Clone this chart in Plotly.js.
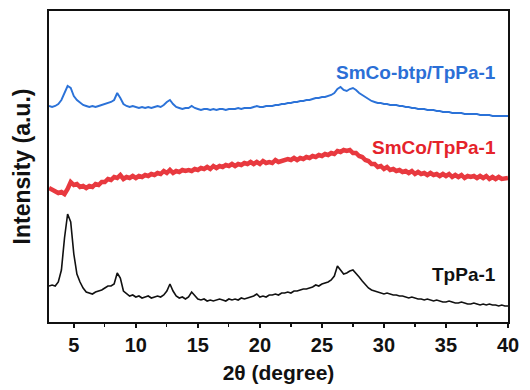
<!DOCTYPE html>
<html>
<head>
<meta charset="utf-8">
<script src="https://cdn.plot.ly/plotly-3.0.1.min.js"></script>
<style>html,body{margin:0;padding:0;background:#fff;}#chart{width:530px;height:390px;}</style>
</head>
<body>
<div id="chart"></div>
<script>
// 2θ grid (degree)
var twoTheta = [
3.00,3.25,3.50,3.75, 4.00,4.25,4.50,4.75, 5.00,5.25,5.50,5.75, 6.00,6.25,6.50,6.75,
7.00,7.25,7.50,7.75, 8.00,8.25,8.50,8.75, 9.00,9.25,9.50,9.75, 10.00,10.25,10.50,10.75,
11.00,11.25,11.50,11.75, 12.00,12.25,12.50,12.75, 13.00,13.25,13.50,13.75, 14.00,14.25,14.50,14.75,
15.00,15.25,15.50,15.75, 16.00,16.25,16.50,16.75, 17.00,17.25,17.50,17.75, 18.00,18.25,18.50,18.75,
19.00,19.25,19.50,19.75, 20.00,20.25,20.50,20.75, 21.00,21.25,21.50,21.75, 22.00,22.25,22.50,22.75,
23.00,23.25,23.50,23.75, 24.00,24.25,24.50,24.75, 25.00,25.25,25.50,25.75, 26.00,26.25,26.50,26.75,
27.00,27.25,27.50,27.75, 28.00,28.25,28.50,28.75, 29.00,29.25,29.50,29.75, 30.00,30.25,30.50,30.75,
31.00,31.25,31.50,31.75, 32.00,32.25,32.50,32.75, 33.00,33.25,33.50,33.75, 34.00,34.25,34.50,34.75,
35.00,35.25,35.50,35.75, 36.00,36.25,36.50,36.75, 37.00,37.25,37.50,37.75, 38.00,38.25,38.50,38.75,
39.00,39.25,39.50,39.75, 40.00
];

// Intensity (a.u., stacked with offsets as in the figure)
var tppa1 = [
36,37,36,40, 52,84,108,100, 68,48,40,34, 30,29,28,30,
31,32,34,36, 36,38,49,44, 31,28,26,27, 25,26,24,25,
26,24,25,26, 25,27,31,38, 31,26,24,25, 23,25,30,26,
23,22,23,21, 22,21,22,23, 22,21,23,22, 23,22,24,23,
24,25,26,28, 25,26,25,27, 27,28,27,29, 29,30,29,31,
31,32,33,33, 34,35,37,36, 38,39,40,42, 46,56,52,48,
49,51,52,49, 45,41,37,34, 32,31,30,29, 28,29,28,27,
27,26,26,25, 24,25,24,23, 23,22,23,22, 21,22,21,20,
20,21,20,19, 19,20,19,18, 18,19,18,17, 18,17,18,17,
17,16,17,16, 16
];

var smcoTppa1 = [
134,132,131,129, 130,128,133,140, 137,138,135,136, 134,136,135,138,
137,140,140,143, 142,145,144,147, 143,145,144,146, 144,146,145,147,
146,148,147,149, 148,151,149,152, 149,151,150,152, 151,152,151,153,
152,154,153,155, 153,156,154,156, 155,157,156,158, 156,158,157,159,
158,160,158,160, 158,161,159,160, 159,162,160,161, 161,163,162,164,
162,164,163,165, 164,166,165,167, 166,168,167,169, 168,171,170,172,
171,172,169,169, 166,165,162,161, 158,158,155,156, 153,155,152,153,
151,152,150,151, 149,151,148,150, 148,149,147,149, 147,148,146,148,
146,148,145,147, 145,147,144,146, 145,146,144,146, 144,146,143,145,
143,145,143,144, 144
];

var smcoBtpTppa1 = [
216,215,216,218, 222,230,236,234, 226,222,219,217, 216,215,216,215,
216,217,218,219, 220,222,229,224, 218,216,215,216, 215,214,215,214,
215,214,215,216, 215,217,220,222, 218,215,214,213, 214,214,216,214,
213,212,213,213, 212,213,212,213, 213,212,213,213, 213,214,213,214,
214,214,215,216, 215,215,216,216, 216,217,217,218, 218,219,219,220,
220,221,221,222, 222,223,224,224, 225,225,226,227, 229,233,235,232,
231,233,234,232, 229,227,225,223, 221,220,219,219, 218,218,217,217,
217,216,216,215, 215,214,214,213, 213,213,212,212, 212,211,211,210,
210,210,209,209, 209,209,208,208, 208,208,208,207, 207,207,207,206,
206,206,206,206, 206
];

var seriesNames = ["TpPa-1", "SmCo/TpPa-1", "SmCo-btp/TpPa-1"];
var seriesColors = ["#111111", "#e8393f", "#2b72d8"];
var labelColors = ["#111111", "#e5232b", "#2b6fd6"];
var labelY = [48, 175, 250];

var ys = [tppa1, smcoTppa1, smcoBtpTppa1];
var widths = [1.6, 4.5, 1.9];
var traces = ys.map(function (y, i) {
  return {
    x: twoTheta, y: y, type: "scatter", mode: "lines", name: seriesNames[i],
    line: {color: seriesColors[i], width: widths[i]}, hoverinfo: "skip"
  };
});

var annotations = seriesNames.map(function (n, i) {
  return {
    x: 39.2, y: labelY[i], xref: "x", yref: "y", text: "<b>" + n + "</b>",
    showarrow: false, xanchor: "right", yanchor: "middle",
    font: {family: "Liberation Sans, Arial, sans-serif", size: 19, color: labelColors[i]}
  };
});

var layout = {
  width: 530, height: 390,
  margin: {l: 49, r: 22, t: 11, b: 68},
  paper_bgcolor: "#fff", plot_bgcolor: "#fff",
  showlegend: false,
  font: {family: "Liberation Sans, Arial, sans-serif", color: "#111"},
  xaxis: {
    range: [3, 40], tick0: 5, dtick: 5, ticks: "outside", ticklen: 4, tickwidth: 1.5,
    tickcolor: "#111",
    minor: {dtick: 2.5, tick0: 5, ticks: "outside", ticklen: 3, tickwidth: 1.2, tickcolor: "#111"},
    showline: true, linecolor: "#111", linewidth: 2, mirror: true,
    showgrid: false, zeroline: false,
    tickfont: {size: 20, family: "Liberation Sans, Arial, sans-serif", color: "#111", weight: "bold"},
    title: {text: "<b>2θ (degree)</b>", standoff: 10,
            font: {size: 21, family: "Liberation Sans, Arial, sans-serif", color: "#111"}}
  },
  yaxis: {
    range: [0, 311], showticklabels: false, ticks: "",
    showline: true, linecolor: "#111", linewidth: 2, mirror: true,
    showgrid: false, zeroline: false,
    title: {text: "<b>Intensity (a.u.)</b>", standoff: 10,
            font: {size: 23, family: "Liberation Sans, Arial, sans-serif", color: "#111"}}
  },
  annotations: annotations
};

Plotly.newPlot("chart", traces, layout, {displayModeBar: false, staticPlot: true});
</script>
</body>
</html>
